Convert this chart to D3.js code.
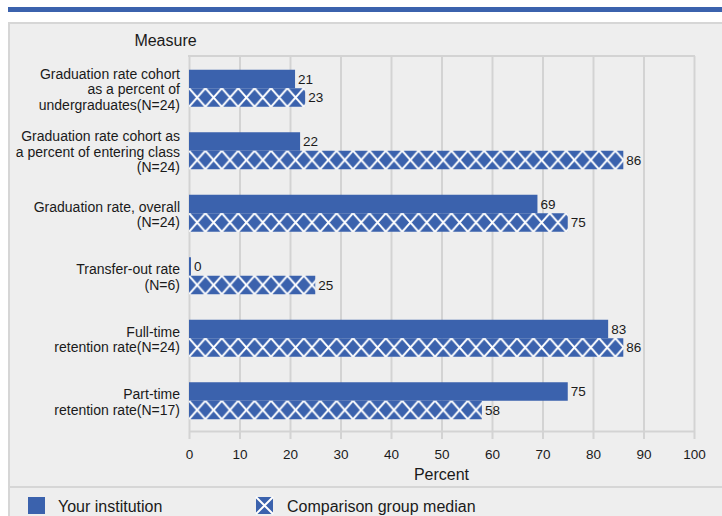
<!DOCTYPE html>
<html><head><meta charset="utf-8">
<script src="https://cdn.jsdelivr.net/npm/d3@7"></script>
<style>
body{margin:0;background:#fff;}
text{font-family:"Liberation Sans",Arial,Helvetica,sans-serif;fill:#1a1a1a;}
</style>
</head><body>
<svg id="chart" width="722" height="516"></svg>
<script>
// ---- data ----
const categories = [
  "Graduation rate cohort as a percent of undergraduates(N=24)",
  "Graduation rate cohort as a percent of entering class (N=24)",
  "Graduation rate, overall (N=24)",
  "Transfer-out rate (N=6)",
  "Full-time retention rate(N=24)",
  "Part-time retention rate(N=17)"
];
const categoryLines = [
  ["Graduation rate cohort", "as a percent of", "undergraduates(N=24)"],
  ["Graduation rate cohort as", "a percent of entering class", "(N=24)"],
  ["Graduation rate, overall", "(N=24)"],
  ["Transfer-out rate", "(N=6)"],
  ["Full-time", "retention rate(N=24)"],
  ["Part-time", "retention rate(N=17)"]
];
const yourInstitution = [21, 22, 69, 0, 83, 75];
const comparisonMedian = [23, 86, 75, 25, 86, 58];
const xTicks = [0, 10, 20, 30, 40, 50, 60, 70, 80, 90, 100];
const seriesNames = ["Your institution", "Comparison group median"];
const axisTitle = "Percent";
const yTitle = "Measure";

// ---- drawing ----
const blue = "#3b62ad";
const grid = "#d3d3d3";
const svg = d3.select("#chart");
const defs = svg.append("defs");

// background
svg.append("rect").attr("x", 8).attr("y", 7).attr("width", 714).attr("height", 5).attr("fill", blue);
svg.append("rect").attr("x", 9).attr("y", 23).attr("width", 720).attr("height", 500)
  .attr("fill", "#eeeeee").attr("stroke", "#d6d6d6").attr("stroke-width", 2);
svg.append("line").attr("x1", 9).attr("x2", 722).attr("y1", 487).attr("y2", 487)
  .attr("stroke", "#d6d6d6").attr("stroke-width", 2);

const x = d3.scaleLinear().domain([0, 100]).range([189, 694]);
const y0 = d3.scaleBand().domain(categories).range([56, 431]).padding(0);
const groupH = 37;
const y1 = d3.scaleBand().domain([0, 1]).range([0, groupH]);
const gOff = (y0.bandwidth() - groupH) / 2 + 1;

// gridlines
const gGrid = svg.append("g").attr("transform", "translate(0,431)")
  .call(d3.axisBottom(x).tickValues(xTicks).tickSize(-375).tickFormat(""));
gGrid.select(".domain").remove();
gGrid.selectAll(".tick line").attr("stroke", grid).attr("stroke-width", 2);

// top border
svg.append("line").attr("x1", x(0) - 1).attr("x2", x(100) + 1).attr("y1", 56).attr("y2", 56)
  .attr("stroke", grid).attr("stroke-width", 2);

// bottom axis
const gAxis = svg.append("g").attr("transform", "translate(0,431)")
  .call(d3.axisBottom(x).tickValues(xTicks).tickSize(8).tickSizeOuter(0).tickPadding(10));
gAxis.select(".domain").attr("stroke", grid).attr("stroke-width", 2);
gAxis.selectAll(".tick line").attr("stroke", grid).attr("stroke-width", 2);
gAxis.selectAll(".tick text").attr("font-size", "13.5px").attr("font-family", "Liberation Sans, Arial, sans-serif").attr("fill", "#1a1a1a");

svg.append("text").attr("x", (x(0) + x(100)) / 2).attr("y", 480)
  .attr("text-anchor", "middle").attr("font-size", "16px").text(axisTitle);

svg.append("text").attr("x", 165.5).attr("y", 46)
  .attr("text-anchor", "middle").attr("font-size", "16px").text(yTitle);

// category labels
const lineH = 15.5;
categories.forEach((c, i) => {
  const lines = categoryLines[i];
  const cy = y0(c) + gOff + groupH / 2;
  const first = cy + 6 - (lines.length - 1) * lineH / 2;
  const t = svg.append("text").attr("text-anchor", "end").attr("font-size", "14px");
  lines.forEach((ln, j) => {
    t.append("tspan").attr("x", 180).attr("y", first + j * lineH).text(ln);
  });
});

// patterns for comparison bars
const tileW = 16.4;
const barH = y1.bandwidth();
categories.forEach((c, i) => {
  const by = y0(c) + gOff + y1(1);
  const p = defs.append("pattern").attr("id", "hatch" + i)
    .attr("patternUnits", "userSpaceOnUse")
    .attr("x", x(0)).attr("y", by).attr("width", tileW).attr("height", barH);
  p.append("rect").attr("width", tileW).attr("height", barH).attr("fill", blue);
  p.append("path")
    .attr("d", `M${-tileW/2},${-barH/2}L${1.5*tileW},${1.5*barH}M${1.5*tileW},${-barH/2}L${-tileW/2},${1.5*barH}`)
    .attr("stroke", "#ffffff").attr("stroke-width", 2).attr("fill", "none");
});

const series = [yourInstitution, comparisonMedian];
series.forEach((vals, s) => {
  const g = svg.append("g");
  g.selectAll("rect").data(vals).join("rect")
    .attr("x", x(0))
    .attr("y", (d, i) => y0(categories[i]) + gOff + y1(s))
    .attr("width", d => Math.max(x(d) - x(0), 2))
    .attr("height", y1.bandwidth())
    .attr("fill", (d, i) => s === 0 ? blue : `url(#hatch${i})`);
  g.selectAll("text").data(vals).join("text")
    .attr("x", d => x(0) + Math.max(x(d) - x(0), 2) + 3)
    .attr("y", (d, i) => y0(categories[i]) + gOff + y1(s) + y1.bandwidth() / 2 + 4.8)
    .attr("font-size", "13.5px")
    .text(d => d);
});

// legend
const lg = svg.append("g");
lg.append("rect").attr("x", 28).attr("y", 497).attr("width", 17).attr("height", 17).attr("fill", blue);
lg.append("text").attr("x", 58).attr("y", 512).attr("font-size", "16px").text(seriesNames[0]);
lg.append("rect").attr("x", 256).attr("y", 497).attr("width", 17).attr("height", 17).attr("fill", blue);
lg.append("path").attr("d", "M256,497L273,514M273,497L256,514").attr("stroke", "#fff").attr("stroke-width", 2);
lg.append("text").attr("x", 287).attr("y", 512).attr("font-size", "16px").text(seriesNames[1]);
</script>
</body></html>
